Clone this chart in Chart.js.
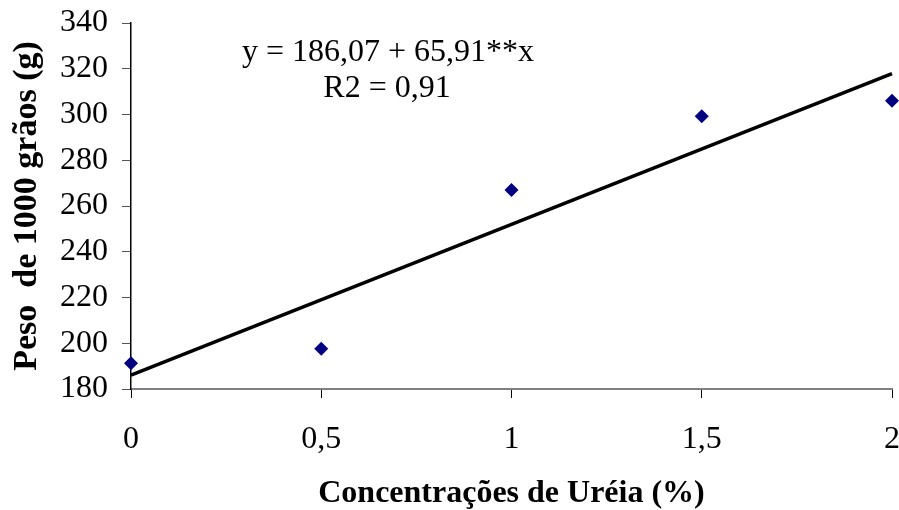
<!DOCTYPE html>
<html>
<head>
<meta charset="utf-8">
<script src="https://cdn.jsdelivr.net/npm/chart.js@4.4.1/dist/chart.umd.min.js"></script>
<style>
html,body{margin:0;padding:0;background:#fff;}
#wrap{width:899px;height:510px;position:relative;}
</style>
</head>
<body>
<div id="wrap"><canvas id="c" width="899" height="510"></canvas></div>
<script>
const concentrations = [0, 0.5, 1, 1.5, 2];
const weights = [191.3, 197.6, 267, 299.2, 306];
const interceptValue = 186.07;
const slopeValue = 65.91;
const xTicks = [0, 0.5, 1, 1.5, 2];
const yTicks = [180, 200, 220, 240, 260, 280, 300, 320, 340];
const equationLines = ['y = 186,07 + 65,91**x', 'R2 = 0,91'];
const xTitle = 'Concentrações de Uréia (%)';
const yTitle = 'Peso  de 1000 grãos (g)';

const fitLine = [
  {x: xTicks[0], y: interceptValue + slopeValue * xTicks[0]},
  {x: xTicks[xTicks.length - 1], y: interceptValue + slopeValue * xTicks[xTicks.length - 1]}
];

const serif = '"Liberation Serif", "Times New Roman", serif';

const textPlugin = {
  id: 'eqText',
  afterDraw(chart) {
    const ctx = chart.ctx;
    ctx.save();
    ctx.fillStyle = '#000';
    ctx.font = '32px ' + serif;
    ctx.textAlign = 'center';
    ctx.textBaseline = 'alphabetic';
    ctx.fillText(equationLines[0], 388, 61);
    ctx.fillText(equationLines[1], 387, 97);
    ctx.restore();
  }
};

new Chart(document.getElementById('c'), {
  type: 'scatter',
  data: {
    datasets: [
      {
        label: 'fit',
        type: 'line',
        data: fitLine,
        borderColor: '#000',
        borderWidth: 3.5,
        pointRadius: 0,
        fill: false,
        clip: false,
        order: 2
      },
      {
        label: 'obs',
        data: concentrations.map((c, i) => ({x: c, y: weights[i]})),
        pointStyle: 'rectRot',
        pointRadius: 7,
        backgroundColor: '#000080',
        borderColor: '#000080',
        borderWidth: 0,
        clip: false,
        order: 1
      }
    ]
  },
  options: {
    responsive: false,
    animation: false,
    layout: {padding: {left: 0, right: 6, top: 23, bottom: 0}},
    plugins: {legend: {display: false}, tooltip: {enabled: false}},
    scales: {
      x: {
        type: 'linear',
        min: 0, max: 2,
        afterBuildTicks(s) { s.ticks = xTicks.map(v => ({value: v})); },
        afterFit(s) { s.height = 121; s.paddingLeft = 0; s.paddingRight = 0; },
        border: {color: '#808080', width: 2},
        grid: {drawOnChartArea: false, drawTicks: true, tickLength: 9, color: '#000', tickWidth: 1},
        ticks: {
          color: '#000',
          font: {family: serif, size: 32},
          padding: 22,
          maxRotation: 0,
          callback: v => String(v).replace('.', ',')
        },
        title: {
          display: true,
          text: xTitle,
          color: '#000',
          font: {family: serif, size: 32, weight: 'bold'},
          padding: {top: 0, bottom: -3}
        }
      },
      y: {
        min: 180, max: 340,
        afterBuildTicks(s) { s.ticks = yTicks.map(v => ({value: v})); },
        afterFit(s) { s.width = 131; s.paddingTop = 0; s.paddingBottom = 0; },
        border: {color: '#000', width: 1.5},
        grid: {drawOnChartArea: false, drawTicks: true, tickLength: 9, color: '#555', tickWidth: 1},
        ticks: {
          color: '#000',
          font: {family: serif, size: 32},
          padding: 14
        },
        title: {
          display: true,
          text: yTitle,
          color: '#000',
          font: {family: serif, size: 34, weight: 'bold'},
          padding: {top: 7, bottom: 0}
        }
      }
    }
  },
  plugins: [textPlugin]
});
</script>
</body>
</html>
